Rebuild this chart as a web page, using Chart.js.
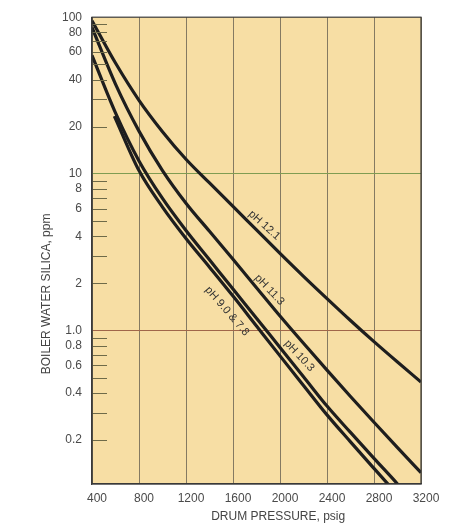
<!DOCTYPE html>
<html>
<head>
<meta charset="utf-8">
<script src="https://cdn.jsdelivr.net/npm/chart.js@4.4.1/dist/chart.umd.min.js"></script>
<style>
  html, body { margin: 0; padding: 0; background: #ffffff; }
  #wrap { width: 463px; height: 528px; }
</style>
</head>
<body>
<div id="wrap"><canvas id="c" width="463" height="528"></canvas></div>
<script>
// ---- data ----
const pressureA = [400, 600, 800, 1000, 1200, 1400, 1600, 1800, 2000, 2200, 2400, 2600, 2800, 3000, 3200];
const silicaA   = [95, 51, 29.5, 18.6, 12.4, 8.75, 6.2, 4.39, 3.11, 2.22, 1.60, 1.16, 0.85, 0.63, 0.47];      // pH 12.1

const pressureB = [400, 600, 800, 1000, 1200, 1400, 1600, 1800, 2000, 2200, 2400, 2600, 2800, 3000, 3200];
const silicaB   = [86, 37.4, 18.75, 10.5, 6.5, 4.3, 2.85, 1.88, 1.24, 0.83, 0.56, 0.38, 0.26, 0.179, 0.124]; // pH 11.3

const pressureC = [400, 600, 800, 1000, 1200, 1400, 1600, 1800, 2000, 2200, 2400, 2600, 2800, 3000, 3070];
const silicaC   = [57, 24.5, 12.1, 6.97, 4.35, 2.83, 1.84, 1.2, 0.78, 0.508, 0.33, 0.224, 0.153, 0.105, 0.091]; // pH 10.3

const pressureD = [590, 800, 1000, 1200, 1400, 1600, 1800, 2000, 2200, 2400, 2600, 2800, 2970];
const silicaD   = [23.4, 10.5, 6.14, 3.87, 2.54, 1.66, 1.07, 0.69, 0.447, 0.29, 0.195, 0.132, 0.095];       // pH 9.0 & 7.8

const seriesNames = ['pH 12.1', 'pH 11.3', 'pH 10.3', 'pH 9.0 & 7.8'];

const xTickValues = [400, 800, 1200, 1600, 2000, 2400, 2800, 3200];
const yTickValues = [0.2, 0.4, 0.6, 0.8, 1, 2, 4, 6, 8, 10, 20, 40, 60, 80, 100];
const yTickLabels = ['0.2', '0.4', '0.6', '0.8', '1.0', '2', '4', '6', '8', '10', '20', '40', '60', '80', '100'];
const yMinorTicks = [0.2, 0.3, 0.4, 0.5, 0.6, 0.7, 0.8, 0.9,
                     2, 3, 4, 5, 6, 7, 8, 9,
                     20, 30, 40, 50, 60, 70, 80, 90];
const yGridValues = [1, 10];

// label anchor positions (in data units) and rotation for curve names
const labelX = [1867, 1910, 2164, 1549];
const labelY = [4.7, 1.82, 0.69, 1.33];
const labelAngle = [42, 47, 47, 49];

// ---- drawing ----
const FONT = "'Liberation Sans', Arial, Helvetica, sans-serif";
const toXY = (xs, ys) => xs.map((x, i) => ({ x: x, y: ys[i] }));

const lineStyle = {
  borderColor: '#1e1e1e',
  borderWidth: 3.2,
  pointRadius: 0,
  fill: false,
  cubicInterpolationMode: 'monotone'
};

const bgPlugin = {
  id: 'bg',
  beforeDraw(chart) {
    const { ctx, chartArea: a } = chart;
    ctx.save();
    ctx.fillStyle = '#f7dea4';
    ctx.fillRect(a.left, a.top, a.right - a.left, a.bottom - a.top);
    ctx.restore();
  },
  afterDraw(chart) {
    const { ctx, chartArea: a } = chart;
    ctx.save();
    ctx.strokeStyle = '#3a3a3a';
    ctx.lineWidth = 1.2;
    ctx.strokeRect(a.left, a.top, a.right - a.left, a.bottom - a.top);
    ctx.restore();
  }
};

const minorTickPlugin = {
  id: 'minorTicks',
  afterDatasetsDraw(chart) {
    const { ctx, chartArea: a, scales } = chart;
    ctx.save();
    ctx.strokeStyle = '#6e6a48';
    ctx.lineWidth = 1;
    yMinorTicks.forEach(v => {
      const py = Math.round(scales.y.getPixelForValue(v)) + 0.5;
      ctx.beginPath();
      ctx.moveTo(a.left, py);
      ctx.lineTo(a.left + 15, py);
      ctx.stroke();
    });
    ctx.restore();
  }
};

const curveLabelPlugin = {
  id: 'curveLabels',
  afterDatasetsDraw(chart) {
    const { ctx, scales } = chart;
    ctx.save();
    ctx.fillStyle = '#333333';
    ctx.font = '11px ' + FONT;
    ctx.textAlign = 'center';
    ctx.textBaseline = 'middle';
    seriesNames.forEach((name, i) => {
      const px = scales.x.getPixelForValue(labelX[i]);
      const py = scales.y.getPixelForValue(labelY[i]);
      ctx.save();
      ctx.translate(px, py);
      ctx.rotate(labelAngle[i] * Math.PI / 180);
      ctx.fillText(name, 0, 0);
      ctx.restore();
    });
    ctx.restore();
  }
};

new Chart(document.getElementById('c'), {
  type: 'line',
  data: {
    datasets: [
      Object.assign({ label: seriesNames[0], data: toXY(pressureA, silicaA) }, lineStyle),
      Object.assign({ label: seriesNames[1], data: toXY(pressureB, silicaB) }, lineStyle),
      Object.assign({ label: seriesNames[2], data: toXY(pressureC, silicaC) }, lineStyle),
      Object.assign({ label: seriesNames[3], data: toXY(pressureD, silicaD) }, lineStyle)
    ]
  },
  options: {
    responsive: false,
    animation: false,
    devicePixelRatio: 1,
    layout: { padding: { left: 0, right: 42, top: 12, bottom: 0 } },
    plugins: { legend: { display: false }, tooltip: { enabled: false } },
    scales: {
      x: {
        type: 'linear',
        min: 400,
        max: 3200,
        afterBuildTicks: s => { s.ticks = xTickValues.map(v => ({ value: v })); },
        afterFit: s => { s.height = 44; },
        grid: { color: '#857a62', lineWidth: 1, drawTicks: false },
        border: { display: true, color: '#3a3a3a', width: 1.2 },
        ticks: {
          color: '#4a4a4a',
          font: { family: FONT, size: 12 },
          padding: 7,
          labelOffset: 5,
          maxRotation: 0,
          callback: v => String(v)
        },
        title: {
          display: true,
          text: '             DRUM PRESSURE, psig',
          color: '#444444',
          font: { family: FONT, size: 12 },
          padding: { top: 0, bottom: 4 }
        }
      },
      y: {
        type: 'logarithmic',
        min: 0.105,
        max: 100,
        afterBuildTicks: s => { s.ticks = yTickValues.map(v => ({ value: v })); },
        afterFit: s => { s.width = 92; },
        grid: {
          drawTicks: false,
          lineWidth: 1,
          color: c => {
            if (!c.tick) return 'transparent';
            if (Math.abs(c.tick.value - yGridValues[0]) < 1e-9) return '#a0664a';
            if (Math.abs(c.tick.value - yGridValues[1]) < 1e-9) return '#7f9c52';
            return 'transparent';
          }
        },
        border: { display: true, color: '#3a3a3a', width: 1.2 },
        ticks: {
          color: '#4a4a4a',
          font: { family: FONT, size: 12 },
          padding: 10,
          autoSkip: false,
          callback: (v, i) => yTickLabels[i]
        },
        title: {
          display: true,
          text: 'BOILER WATER SILICA, ppm                          ',
          color: '#444444',
          font: { family: FONT, size: 12 },
          padding: { top: 39, bottom: 0 }
        }
      }
    }
  },
  plugins: [bgPlugin, minorTickPlugin, curveLabelPlugin]
});
</script>
</body>
</html>
